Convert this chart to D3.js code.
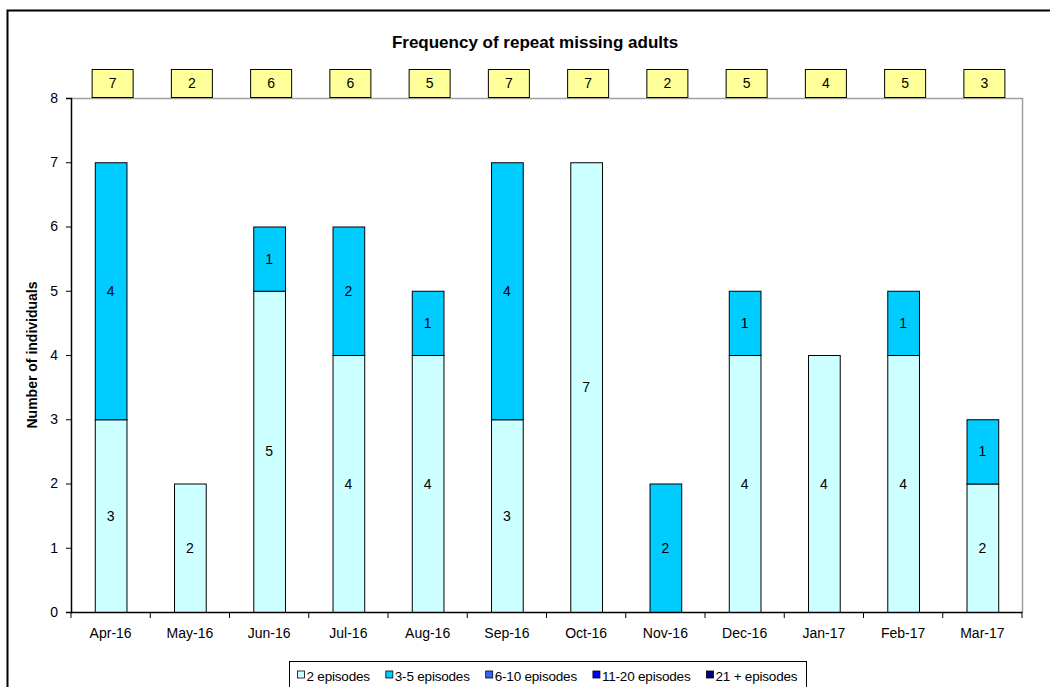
<!DOCTYPE html>
<html lang="en">
<head>
<meta charset="UTF-8">
<title>Frequency of repeat missing adults</title>
<script src="https://d3js.org/d3.v7.min.js"></script>
<style>
    body { margin: 0; background: #fff; }
    svg text { font-family: "Liberation Sans", Arial, sans-serif; fill: #000; }
    .axis path, .axis line { stroke: #000; }
</style>
</head>
<body>
<svg width="1050" height="687"></svg>
<script>
    // Data
    const months = ["Apr-16", "May-16", "Jun-16", "Jul-16", "Aug-16", "Sep-16",
                    "Oct-16", "Nov-16", "Dec-16", "Jan-17", "Feb-17", "Mar-17"];
    const seriesNames = ["2 episodes", "3-5 episodes", "6-10 episodes", "11-20 episodes", "21 + episodes"];
    const ep2    = [3, 2, 5, 4, 4, 3, 7, 0, 4, 4, 4, 2];
    const ep3to5 = [4, 0, 1, 2, 1, 4, 0, 2, 1, 0, 1, 1];
    const ep6to10  = [0, 0, 0, 0, 0, 0, 0, 0, 0, 0, 0, 0];
    const ep11to20 = [0, 0, 0, 0, 0, 0, 0, 0, 0, 0, 0, 0];
    const ep21plus = [0, 0, 0, 0, 0, 0, 0, 0, 0, 0, 0, 0];
    const yTicks = [0, 1, 2, 3, 4, 5, 6, 7, 8];
    const colours = ["#CCFFFF", "#00CCFF", "#3366FF", "#0000FF", "#000080"];

    const svg = d3.select("svg");
    const margin = {top: 98, right: 28, bottom: 75, left: 71};
    const width = 1050 - margin.left - margin.right,
          height = 687 - margin.top - margin.bottom;

    // outer chart border
    svg.append("rect")
        .attr("x", 7.5).attr("y", 10.5)
        .attr("width", 1060).attr("height", 700)
        .attr("fill", "none").attr("stroke", "#000").attr("stroke-width", 2);

    const table = months.map((m, i) => ({
        month: m,
        "2 episodes": ep2[i],
        "3-5 episodes": ep3to5[i],
        "6-10 episodes": ep6to10[i],
        "11-20 episodes": ep11to20[i],
        "21 + episodes": ep21plus[i]
    }));
    const stacked = d3.stack().keys(seriesNames)(table);

    const x = d3.scaleBand().domain(months).range([0, width]).paddingInner(0.6).paddingOuter(0.3);
    const y = d3.scaleLinear().domain([0, 8]).range([height, 0]);
    const colour = d3.scaleOrdinal().domain(seriesNames).range(colours);

    const g = svg.append("g").attr("transform", `translate(${margin.left},${margin.top})`);

    // plot area frame (top and right, grey)
    g.append("path")
        .attr("d", `M0,0.5H${width + 0.5}V${height}`)
        .attr("fill", "none").attr("stroke", "#a0a0a0").attr("stroke-width", 1.5);

    // title
    svg.append("text")
        .attr("x", 535).attr("y", 48)
        .attr("text-anchor", "middle")
        .style("font-size", "17px").style("font-weight", "bold")
        .text("Frequency of repeat missing adults");

    // stacked bars
    const layer = g.selectAll(".layer")
        .data(stacked)
        .enter().append("g")
        .attr("class", "layer")
        .attr("fill", d => colour(d.key));

    layer.selectAll("rect")
        .data(d => d.filter(s => s[1] - s[0] > 0))
        .enter().append("rect")
        .attr("x", d => x(d.data.month) + 0.5)
        .attr("y", d => y(d[1]) + 0.5)
        .attr("width", x.bandwidth())
        .attr("height", d => y(d[0]) - y(d[1]))
        .attr("stroke", "#000").attr("stroke-width", 1);

    layer.selectAll("text")
        .data(d => d.filter(s => s[1] - s[0] > 0))
        .enter().append("text")
        .attr("x", d => x(d.data.month) + x.bandwidth() / 2)
        .attr("y", d => y((d[0] + d[1]) / 2) + 5)
        .attr("text-anchor", "middle")
        .style("font-size", "14px")
        .text(d => d[1] - d[0]);

    // total boxes above the plot
    const totals = months.map((m, i) => ep2[i] + ep3to5[i] + ep6to10[i] + ep11to20[i] + ep21plus[i]);
    const boxes = g.selectAll(".total")
        .data(months)
        .enter().append("g")
        .attr("class", "total")
        .attr("transform", m => `translate(${x(m) + x.bandwidth() / 2 + 2},-15)`);
    boxes.append("rect")
        .attr("x", -20.5).attr("y", -13.5)
        .attr("width", 41).attr("height", 28)
        .attr("fill", "#FFFF99").attr("stroke", "#000").attr("stroke-width", 1);
    boxes.append("text")
        .attr("text-anchor", "middle").attr("y", 5)
        .style("font-size", "14px")
        .text((m, i) => totals[i]);

    // axes
    const xAxis = g.append("g")
        .attr("class", "axis")
        .attr("transform", `translate(0,${height})`)
        .call(d3.axisBottom(x).tickSize(0).tickPadding(16));
    xAxis.select(".domain").attr("stroke", "#404040").attr("stroke-width", 1.5);
    xAxis.selectAll("text").style("font-size", "14px").attr("fill", "#000");
    // category separator ticks
    xAxis.selectAll(".sep")
        .data(d3.range(months.length + 1))
        .enter().append("line")
        .attr("x1", i => i * x.step())
        .attr("x2", i => i * x.step())
        .attr("y1", 0).attr("y2", 6)
        .attr("stroke", "#404040");

    const yAxis = g.append("g")
        .attr("class", "axis")
        .call(d3.axisLeft(y).tickValues(yTicks).tickSize(5).tickPadding(8).tickFormat(d3.format("d")));
    yAxis.select(".domain").attr("stroke", "#404040").attr("stroke-width", 1.5);
    yAxis.selectAll("text").style("font-size", "14px").attr("fill", "#000");

    svg.append("text")
        .attr("transform", `translate(37,${margin.top + height / 2}) rotate(-90)`)
        .attr("text-anchor", "middle")
        .style("font-size", "14px").style("font-weight", "bold")
        .text("Number of individuals");

    // legend: items flowed left to right
    const legend = svg.append("g").attr("transform", "translate(289.5,661.5)");
    legend.append("rect")
        .attr("width", 517).attr("height", 40)
        .attr("fill", "#fff").attr("stroke", "#000").attr("stroke-width", 1);
    let lx = 8;
    seriesNames.forEach(name => {
        const it = legend.append("g").attr("transform", `translate(${lx},15)`);
        it.append("rect")
            .attr("x", 0).attr("y", -5.5)
            .attr("width", 7).attr("height", 7)
            .attr("fill", colour(name)).attr("stroke", "#000").attr("stroke-width", 0.8);
        const t = it.append("text")
            .attr("x", 9).attr("y", 4.5)
            .style("font-size", "13.5px")
            .style("letter-spacing", "-0.2px")
            .text(name);
        lx += 9 + t.node().getComputedTextLength() + 16;
    });
</script>
</body>
</html>
